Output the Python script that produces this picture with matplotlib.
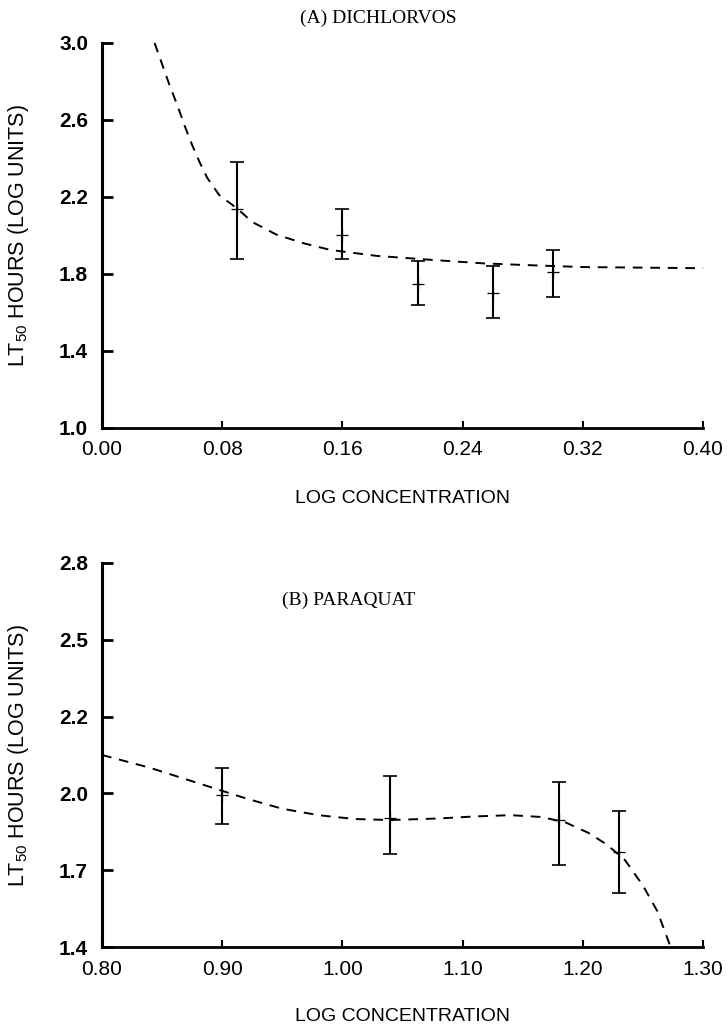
import matplotlib
matplotlib.use("Agg")
import matplotlib.pyplot as plt

plt.rcParams['font.family'] = ['Liberation Sans', 'DejaVu Sans']
plt.rcParams['mathtext.fontset'] = 'custom'
plt.rcParams['mathtext.rm'] = 'Liberation Sans'
plt.rcParams['mathtext.it'] = 'Liberation Sans:italic'
plt.rcParams['mathtext.bf'] = 'Liberation Sans:bold'

# ---------------- Panel A: Dichlorvos ----------------
a_x = [0.09, 0.16, 0.21, 0.26, 0.30]
a_mean = [2.14, 2.00, 1.75, 1.70, 1.81]
a_low = [1.88, 1.88, 1.64, 1.57, 1.68]
a_high = [2.38, 2.14, 1.87, 1.84, 1.925]
a_curve_x = [0.035, 0.040, 0.045, 0.050, 0.055, 0.060, 0.065, 0.070, 0.078,
             0.090, 0.100, 0.116, 0.134, 0.152, 0.183, 0.220, 0.254, 0.287,
             0.320, 0.400]
a_curve_y = [3.00, 2.89, 2.78, 2.68, 2.57, 2.47, 2.38, 2.30, 2.21,
             2.14, 2.07, 2.005, 1.96, 1.925, 1.894, 1.873, 1.855, 1.845,
             1.836, 1.830]
a_xticks = [0.00, 0.08, 0.16, 0.24, 0.32, 0.40]
a_xticklabels = ['0.00', '0.08', '0.16', '0.24', '0.32', '0.40']
a_yticks = [1.0, 1.4, 1.8, 2.2, 2.6, 3.0]
a_yticklabels = ['1.0', '1.4', '1.8', '2.2', '2.6', '3.0']

# ---------------- Panel B: Paraquat ----------------
b_x = [0.90, 1.04, 1.18, 1.23]
b_mean = [1.994, 1.904, 1.896, 1.771]
b_low = [1.880, 1.763, 1.720, 1.611]
b_high = [2.099, 2.068, 2.045, 1.931]
b_curve_x = [0.800, 0.840, 0.880, 0.920, 0.950, 0.980, 1.010, 1.040, 1.080,
             1.110, 1.140, 1.165, 1.185, 1.205, 1.220, 1.235, 1.250, 1.262,
             1.273]
b_curve_y = [2.150, 2.100, 2.040, 1.980, 1.940, 1.915, 1.900, 1.896, 1.902,
             1.910, 1.915, 1.908, 1.888, 1.845, 1.800, 1.740, 1.640, 1.540,
             1.400]
b_xticks = [0.80, 0.90, 1.00, 1.10, 1.20, 1.30]
b_xticklabels = ['0.80', '0.90', '1.00', '1.10', '1.20', '1.30']
b_yticks = [1.4, 1.7, 2.0, 2.3, 2.6, 2.9]
b_yticklabels = ['1.4', '1.7', '2.0', '2.2', '2.5', '2.8']

fig = plt.figure(figsize=(7.28, 10.30), dpi=100)
ax1 = fig.add_axes([0.1401, 0.58447, 0.8256, 0.37379])
ax2 = fig.add_axes([0.1401, 0.08058, 0.8256, 0.37282])

ylabel = r'LT$_{\mathrm{50}}$ HOURS (LOG UNITS)'


def style(ax, xticks, xlabels, yticks, ylabels, xlim, ylim):
    ax.set_xlim(*xlim)
    ax.set_ylim(*ylim)
    for s in ['top', 'right']:
        ax.spines[s].set_visible(False)
    ax.spines['left'].set_linewidth(2.2)
    ax.spines['bottom'].set_linewidth(2.0)
    ax.set_xticks(xticks)
    ax.set_xticklabels(xlabels, fontsize=15)
    ax.set_yticks(yticks)
    ax.set_yticklabels(ylabels, fontsize=15, fontweight='bold')
    ax.tick_params(axis='x', direction='in', length=5, width=1.5, pad=9)
    ax.tick_params(axis='y', direction='in', length=8, width=2, pad=10)
    ax.set_xlabel('LOG CONCENTRATION', fontsize=14)
    ax.xaxis.set_label_coords(0.5, -0.16)
    ax.set_ylabel(ylabel, fontsize=15.5)
    ax.yaxis.set_label_coords(-0.118, 0.5)


style(ax1, a_xticks, a_xticklabels, a_yticks, a_yticklabels, (0.0, 0.40), (1.0, 3.0))
style(ax2, b_xticks, b_xticklabels, b_yticks, b_yticklabels, (0.80, 1.30), (1.4, 2.9))

for ax, xs, m, lo, hi, cx, cy in [
        (ax1, a_x, a_mean, a_low, a_high, a_curve_x, a_curve_y),
        (ax2, b_x, b_mean, b_low, b_high, b_curve_x, b_curve_y)]:
    ax.plot(cx, cy, color='black', lw=1.4, linestyle=(0, (5, 4)), clip_on=False)
    yerr = [[mm - l for mm, l in zip(m, lo)], [h - mm for mm, h in zip(m, hi)]]
    ax.errorbar(xs, m, yerr=yerr, fmt='none', ecolor='black', elinewidth=1.5,
                capsize=5, capthick=1.2)
    ax.plot(xs, m, linestyle='none', marker='+', markersize=8, mew=0.9, color='black')

fig.text(378 / 728, 1 - 18 / 1030, '(A) DICHLORVOS', ha='center', va='center',
         fontsize=14, family=['Liberation Serif', 'DejaVu Serif'])
fig.text(349 / 728, 1 - 600 / 1030, '(B) PARAQUAT', ha='center', va='center',
         fontsize=14, family=['Liberation Serif', 'DejaVu Serif'])

fig.savefig('out.png', dpi=100)
